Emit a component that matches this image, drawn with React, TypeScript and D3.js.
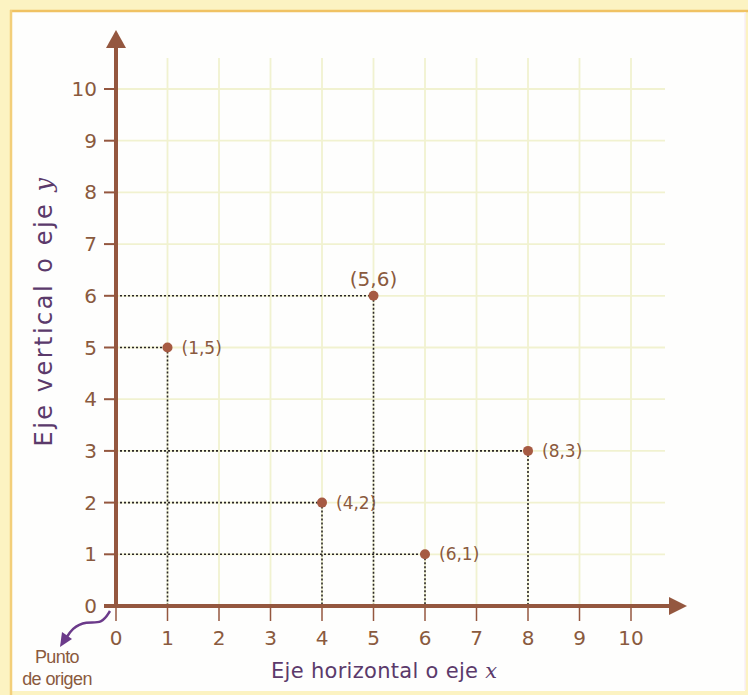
import React from "react";
import * as d3 from "d3";

const xTicks = [0, 1, 2, 3, 4, 5, 6, 7, 8, 9, 10];
const yTicks = [0, 1, 2, 3, 4, 5, 6, 7, 8, 9, 10];
const pointsX = [1, 5, 8, 4, 6];
const pointsY = [5, 6, 3, 2, 1];
const pointLabels = ["(1,5)", "(5,6)", "(8,3)", "(4,2)", "(6,1)"];
const labelAbove = [false, true, false, false, false];

export default function App() {
  const x = d3.scaleLinear().domain([0, 10]).range([116, 631]);
  const y = d3.scaleLinear().domain([0, 10]).range([606, 89]);
  const brown = "#94573f";
  const tickCol = "#8a5a3e";
  const purple = "#5b3a6b";
  const grid = "#f1f2d0";
  const font = "Verdana, 'DejaVu Sans', sans-serif";
  const gridX = d3.range(1, 11);
  const gridY = d3.range(1, 11);
  const curve = d3.line().curve(d3.curveBasis)([
    [110, 611],
    [102, 624],
    [86, 621],
    [72, 628],
    [65, 640],
  ]);
  return (
    <svg width={748} height={695} style={{ position: "absolute", left: 0, top: 0 }}>
      <rect x={0} y={0} width={748} height={695} fill="#fcf3c2" />
      <rect x={11} y={11} width={734} height={680} fill="#fefefd" />
      <line x1={10} y1={11} x2={748} y2={11} stroke="#f0c263" strokeWidth={2.5} />
      <line x1={11} y1={10} x2={11} y2={695} stroke="#f3cf7a" strokeWidth={2.5} />
      <line x1={745} y1={12} x2={745} y2={690} stroke="#f8eef6" strokeWidth={1.5} />
      {gridX.map((v) => (
        <line key={"gx" + v} x1={x(v)} x2={x(v)} y1={58} y2={606} stroke={grid} strokeWidth={1.8} />
      ))}
      {gridY.map((v) => (
        <line key={"gy" + v} x1={116} x2={665} y1={y(v)} y2={y(v)} stroke={grid} strokeWidth={1.8} />
      ))}
      {pointsX.map((px, i) => (
        <g key={"d" + i} stroke="#2a2626" strokeWidth={1.6} strokeDasharray="2,2">
          <line x1={x(0)} x2={x(px)} y1={y(pointsY[i])} y2={y(pointsY[i])} />
          <line x1={x(px)} x2={x(px)} y1={y(pointsY[i])} y2={y(0)} />
        </g>
      ))}
      {/* axes */}
      <line x1={x(0)} x2={x(0)} y1={608} y2={46} stroke={brown} strokeWidth={4} />
      <path d={`M${x(0)},30 L${x(0) - 10},48 L${x(0) + 10},48 Z`} fill={brown} />
      <line x1={104} x2={670} y1={y(0)} y2={y(0)} stroke={brown} strokeWidth={4} />
      <path d={`M687,${y(0)} L669,${y(0) - 9} L669,${y(0) + 9} Z`} fill={brown} />
      {yTicks.map((v) => (
        <g key={"yt" + v}>
          <line x1={104} x2={x(0)} y1={y(v)} y2={y(v)} stroke={brown} strokeWidth={2} />
          <text x={97} y={y(v) + 7} textAnchor="end" fontSize={20} fill={tickCol} fontFamily={font}>
            {v}
          </text>
        </g>
      ))}
      {xTicks.map((v) => (
        <g key={"xt" + v}>
          <line x1={x(v)} x2={x(v)} y1={y(0)} y2={621} stroke={brown} strokeWidth={1.5} />
          <text x={x(v)} y={645} textAnchor="middle" fontSize={20} fill={tickCol} fontFamily={font}>
            {v}
          </text>
        </g>
      ))}
      {pointsX.map((px, i) => (
        <g key={"p" + i}>
          <circle cx={x(px)} cy={y(pointsY[i])} r={5} fill="#a65a42" />
          {labelAbove[i] ? (
            <text x={x(px)} y={y(pointsY[i]) - 10} textAnchor="middle" fontSize={20} fill={tickCol} fontFamily={font}>
              {pointLabels[i]}
            </text>
          ) : (
            <text x={x(px) + 14} y={y(pointsY[i]) + 6} fontSize={17} fill={tickCol} fontFamily={font}>
              {pointLabels[i]}
            </text>
          )}
        </g>
      ))}
      {/* axis titles */}
      <text
        transform="translate(52,311) rotate(-90)"
        textAnchor="middle"
        fontSize={24}
        fill={purple}
        fontFamily={font}
        letterSpacing={2.5}
      >
        Eje vertical o eje <tspan fontFamily="'DejaVu Serif', serif" fontStyle="italic">y</tspan>
      </text>
      <text x={271} y={678} fontSize={21} fill={purple} fontFamily={font} letterSpacing={0.3}>
        Eje horizontal o eje <tspan fontFamily="'DejaVu Serif', serif" fontStyle="italic">x</tspan>
      </text>
      {/* punto de origen */}
      <path d={curve || ""} fill="none" stroke="#6b3a8a" strokeWidth={2.5} />
      <path d="M60,647 L62,632 L72,639 Z" fill="#6b3a8a" />
      <text x={57} y={663} textAnchor="middle" fontSize={18} fill={tickCol} fontFamily="'Liberation Sans', Arial, sans-serif" letterSpacing={-0.6}>
        Punto
      </text>
      <text x={57} y={685} textAnchor="middle" fontSize={18} fill={tickCol} fontFamily="'Liberation Sans', Arial, sans-serif" letterSpacing={-0.6}>
        de origen
      </text>
    </svg>
  );
}
